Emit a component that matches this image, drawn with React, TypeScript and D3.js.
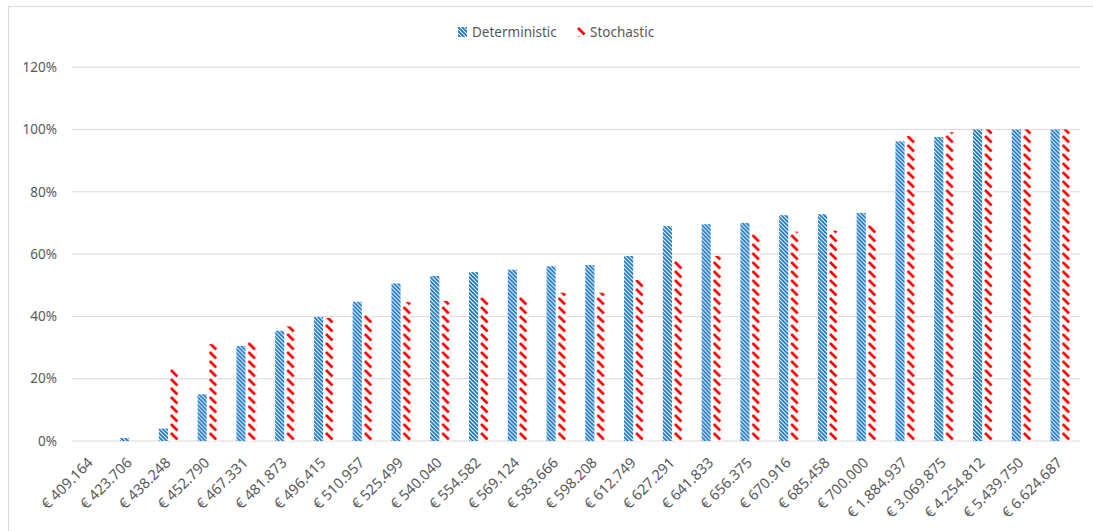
import React from "react";
import * as d3 from "d3";

// Price levels on the x axis
const categories: string[] = [
  "€ 409.164", "€ 423.706", "€ 438.248", "€ 452.790", "€ 467.331", "€ 481.873",
  "€ 496.415", "€ 510.957", "€ 525.499", "€ 540.040", "€ 554.582", "€ 569.124",
  "€ 583.666", "€ 598.208", "€ 612.749", "€ 627.291", "€ 641.833", "€ 656.375",
  "€ 670.916", "€ 685.458", "€ 700.000", "€ 1.884.937", "€ 3.069.875",
  "€ 4.254.812", "€ 5.439.750", "€ 6.624.687",
];

// Cumulative share (%) per price level
const deterministic: number[] = [
  0, 1, 4, 15, 30.5, 35.4, 39.8, 44.7, 50.6, 53, 54.2, 55, 56.1, 56.5,
  59.4, 69, 69.6, 70, 72.5, 72.8, 73.2, 96.2, 97.6, 100, 100, 100,
];
const stochastic: number[] = [
  0, 0, 23.3, 31.1, 32, 36.8, 39.5, 40.6, 44.6, 45, 46.1, 46.5, 47.6, 47.6,
  51.7, 57.9, 59.4, 66.4, 67.2, 67.5, 69.6, 97.9, 99.1, 100, 100, 100,
];

const yTicks: number[] = [0, 20, 40, 60, 80, 100, 120];
const seriesNames: string[] = ["Deterministic", "Stochastic"];

const W = 1093;
const H = 531;
const FONT = "'Noto Sans', 'Open Sans', sans-serif";
const TEXT = "#595959";
const GRID = "#d9d9d9";
const BLUE = "#1776c8";
const RED = "#ff0000";

export default function App() {
  const x = d3.scaleBand<string>().domain(categories).range([72, 1080]).padding(0);
  const y = d3.scaleLinear().domain([0, 120]).range([441, 67.2]);
  const bw = x.bandwidth();
  const barW = bw * 0.235;
  const gap = bw * 0.05;

  const bars = categories.flatMap((c, i) => {
    const cx = (x(c) as number) + bw / 2;
    return [
      { key: `d${i}`, x: cx - gap / 2 - barW, v: deterministic[i], fill: "url(#patDet)" },
      { key: `s${i}`, x: cx + gap / 2, v: stochastic[i], fill: "url(#patSto)" },
    ];
  });

  return (
    <svg
      width={W}
      height={H}
      style={{ position: "absolute", left: 0, top: 0, display: "block", background: "#fff" }}
      fontFamily={FONT}
    >
      <defs>
        <pattern id="patDet" patternUnits="userSpaceOnUse" width={4} height={4}>
          <rect width={4} height={4} fill="#fff" />
          <path d="M-1,-1 L5,5 M-1,3 L1,5 M3,-1 L5,1" stroke={BLUE} strokeWidth={1.8} />
        </pattern>
        <pattern id="patSto" patternUnits="userSpaceOnUse" width={9} height={9}>
          <rect width={9} height={9} fill="#fff" />
          <path d="M1,1 L7.5,7.5" stroke={RED} strokeWidth={2.7} />
        </pattern>
      </defs>

      {/* chart area frame */}
      <line x1={8.5} x2={W} y1={6.5} y2={6.5} stroke={GRID} />
      <line x1={8.5} x2={8.5} y1={6.5} y2={H} stroke={GRID} />

      {/* gridlines and y labels */}
      {yTicks.map((t) => (
        <g key={t}>
          <line x1={72} x2={1080} y1={y(t)} y2={y(t)} stroke={GRID} strokeWidth={1} />
          <text x={57} y={y(t)} dy="0.35em" textAnchor="end" fontSize={13.5} fill={TEXT}>
            {t}%
          </text>
        </g>
      ))}

      {/* bars: each one in its own group so the hatch starts at the bar's corner */}
      {bars.map((b) =>
        b.v > 0 ? (
          <g key={b.key} transform={`translate(${b.x},${y(0)})`}>
            <rect x={0} y={y(b.v) - y(0)} width={barW} height={y(0) - y(b.v)} fill={b.fill} />
          </g>
        ) : null
      )}

      {/* x labels */}
      {categories.map((c) => {
        const cx = (x(c) as number) + bw / 2;
        return (
          <text
            key={c}
            transform={`translate(${cx - 1},${460}) rotate(-45)`}
            textAnchor="end"
            dy="0.35em"
            fontSize={14.5}
            fill={TEXT}
          >
            {c}
          </text>
        );
      })}

      {/* legend */}
      <g>
        <g transform="translate(458,27)">
          <rect width={9} height={10} fill="url(#patDet)" />
        </g>
        <text x={472} y={32} dy="0.35em" fontSize={13.5} fill={TEXT}>
          {seriesNames[0]}
        </text>
        <g transform="translate(577,27)">
          <rect width={9} height={10} fill="url(#patSto)" />
        </g>
        <text x={590} y={32} dy="0.35em" fontSize={13.5} fill={TEXT}>
          {seriesNames[1]}
        </text>
      </g>
    </svg>
  );
}
